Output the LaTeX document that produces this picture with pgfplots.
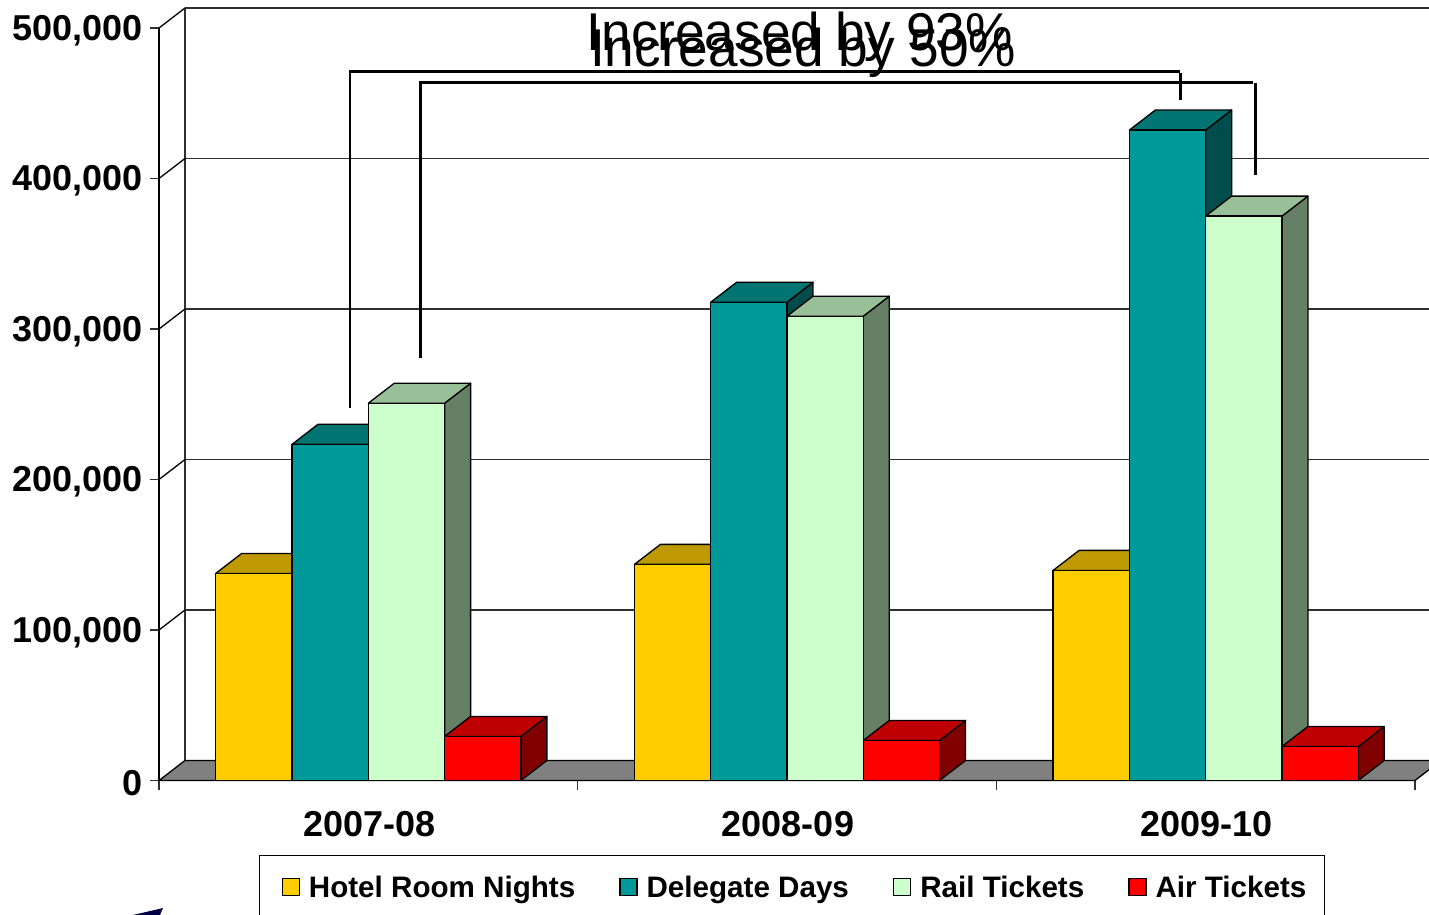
\documentclass[border=0pt]{standalone}
\usepackage{pgfplots}
\pgfplotsset{compat=1.18}
\usepackage{fontspec}
\setmainfont{Liberation Sans}
\definecolor{cH}{HTML}{FFCC00}\definecolor{cHt}{HTML}{BF9900}\definecolor{cHs}{HTML}{806600}
\definecolor{cD}{HTML}{009999}\definecolor{cDt}{HTML}{007373}\definecolor{cDs}{HTML}{004D4D}
\definecolor{cR}{HTML}{CCFFCC}\definecolor{cRt}{HTML}{99BF99}\definecolor{cRs}{HTML}{668066}
\definecolor{cA}{HTML}{FF0000}\definecolor{cAt}{HTML}{BF0000}\definecolor{cAs}{HTML}{800000}
\definecolor{gridc}{HTML}{303030}
% top and side faces of a 3D bar: left edge, value, top colour, side colour
\newcommand\boxfaces[4]{%
  \pgfmathsetmacro\xR{#1+0.1822}%
  \pgfmathsetmacro\xRd{#1+0.1822+0.0621}%
  \pgfmathsetmacro\xLd{#1+0.0621}%
  \edef\vd{\the\numexpr#2+13298\relax}%
  \edef\temp{\noexpand\addplot[forget plot,fill=#4,draw=black,line width=1.3pt,line join=round] coordinates {(\xR,0) (\xR,#2) (\xRd,\vd) (\xRd,13298)} --cycle;
  \noexpand\addplot[forget plot,fill=#3,draw=black,line width=1.3pt,line join=round] coordinates {(#1,#2) (\xR,#2) (\xRd,\vd) (\xLd,\vd)} --cycle;}%
  \temp
}
\pgfplotsset{leg/.style={legend image code/.code={\path (0pt,0pt) (21pt,0pt);\draw[##1,draw=black,line width=1.3pt] (4pt,2pt) rectangle (21pt,19pt);}}}
\begin{document}
\begin{tikzpicture}
\clip (0pt,0pt) rectangle (1429pt,-915pt);
\begin{axis}[
  at={(159pt,-780.5pt)}, anchor=south west,
  scale only axis, width=1256pt, height=752.5pt,
  xmin=-0.5, xmax=2.5, ymin=0, ymax=500000,
  clip=false,
  axis x line*=bottom, axis y line*=left,
  axis line style={line width=1.4pt,-},
  tick align=outside, major tick length=9.5pt,
  tick style={line width=1.3pt,color=gridc},
  ytick={0,100000,200000,300000,400000,500000},
  scaled y ticks=false,
  yticklabel style={/pgf/number format/.cd,fixed,1000 sep={,},assume math mode=true,
    /tikz/.cd,font=\fontsize{36}{36}\selectfont\bfseries,inner xsep=0pt,xshift=-7pt,yshift=-2.5pt},
  xtick={-0.5,0.5,1.5,2.5}, xticklabels={},
  extra x ticks={0,1,2},
  extra x tick labels={2007-08,2008-09,2009-10},
  extra x tick style={major tick length=0pt,tick style={draw=none},
    xticklabel style={font=\fontsize{36}{36}\selectfont\bfseries,yshift=-27pt,xshift=1pt}},
  legend columns=4,
  legend style={at={(rel axis cs:0.0796,-0.0984)},anchor=north west,
    draw=black,line width=1.3pt,fill=white,
    font=\fontsize{29.6}{30}\selectfont\bfseries,
    inner xsep=18pt,inner ysep=21pt,
    nodes={inner sep=0pt,anchor=base west},
    /tikz/every odd column/.append style={column sep=9pt},
    /tikz/every even column/.append style={column sep=40pt}},
]
% floor
\addplot[forget plot,fill=gray!100!black,draw=black,line width=1.3pt] coordinates {(-0.5,0) (-0.4379,13298) (2.5621,13298) (2.5,0)} --cycle;
% back wall and gridlines
\addplot[forget plot,gridc,line width=1.3pt] coordinates {(-0.4379,13298) (-0.4379,513298)};
\addplot[forget plot,gridc,line width=1.3pt] coordinates {(-0.4379,113298) (2.5621,113298)};
\addplot[forget plot,gridc,line width=1.3pt] coordinates {(-0.4379,213298) (2.5621,213298)};
\addplot[forget plot,gridc,line width=1.3pt] coordinates {(-0.4379,313298) (2.5621,313298)};
\addplot[forget plot,gridc,line width=1.3pt] coordinates {(-0.4379,413298) (2.5621,413298)};
\addplot[forget plot,gridc,line width=1.3pt] coordinates {(-0.4379,513298) (2.5621,513298)};
% side wall diagonals
\addplot[forget plot,black,line width=1.3pt] coordinates {(-0.5,100000) (-0.4379,113298)};
\addplot[forget plot,black,line width=1.3pt] coordinates {(-0.5,200000) (-0.4379,213298)};
\addplot[forget plot,black,line width=1.3pt] coordinates {(-0.5,300000) (-0.4379,313298)};
\addplot[forget plot,black,line width=1.3pt] coordinates {(-0.5,400000) (-0.4379,413298)};
\addplot[forget plot,black,line width=1.3pt] coordinates {(-0.5,500000) (-0.4379,513298)};
% 3D faces
\boxfaces{-0.3644}{137600}{cHt}{cHs}
\boxfaces{-0.1822}{223400}{cDt}{cDs}
\boxfaces{0.0}{250700}{cRt}{cRs}
\boxfaces{0.1822}{29300}{cAt}{cAs}
\boxfaces{0.6356}{143600}{cHt}{cHs}
\boxfaces{0.8178}{317800}{cDt}{cDs}
\boxfaces{1.0}{308500}{cRt}{cRs}
\boxfaces{1.1822}{26600}{cAt}{cAs}
\boxfaces{1.6356}{139600}{cHt}{cHs}
\boxfaces{1.8178}{432200}{cDt}{cDs}
\boxfaces{2.0}{375000}{cRt}{cRs}
\boxfaces{2.1822}{22600}{cAt}{cAs}
% front faces
\addplot[ybar,bar width=0.1822,bar shift=-0.2733,fill=cH,draw=black,line width=1.3pt,leg] coordinates {(0,137600) (1,143600) (2,139600)};
\addplot[ybar,bar width=0.1822,bar shift=-0.0911,fill=cD,draw=black,line width=1.3pt,leg] coordinates {(0,223400) (1,317800) (2,432200)};
\addplot[ybar,bar width=0.1822,bar shift=0.0911,fill=cR,draw=black,line width=1.3pt,leg] coordinates {(0,250700) (1,308500) (2,375000)};
\addplot[ybar,bar width=0.1822,bar shift=0.2733,fill=cA,draw=black,line width=1.3pt,leg] coordinates {(0,29300) (1,26600) (2,22600)};
\legend{Hotel Room Nights,Delegate Days,Rail Tickets,Air Tickets}
\end{axis}
% annotations
\draw[black,line width=2.5pt] (350pt,-408pt) -- (350pt,-71.5pt) -- (1180pt,-71.5pt);
\draw[black,line width=2.5pt] (1180.5pt,-73pt) -- (1180.5pt,-100.5pt);
\draw[black,line width=2.5pt] (420.5pt,-358pt) -- (420.5pt,-82.5pt) -- (1253pt,-82.5pt);
\draw[black,line width=2.5pt] (1255.5pt,-83pt) -- (1255.5pt,-175pt);
\node[anchor=base west,inner sep=0pt,font=\fontsize{53.2}{60}\selectfont] at (586.5pt,-50.5pt) {Increased by 93\%};
\node[anchor=base west,inner sep=0pt,font=\fontsize{53.2}{60}\selectfont] at (590pt,-67pt) {Increased by 50\%};
\fill[black!60!blue!70!black] (133pt,-915pt) -- (163pt,-908pt) -- (160pt,-915pt) -- cycle;
\end{tikzpicture}
\end{document}
